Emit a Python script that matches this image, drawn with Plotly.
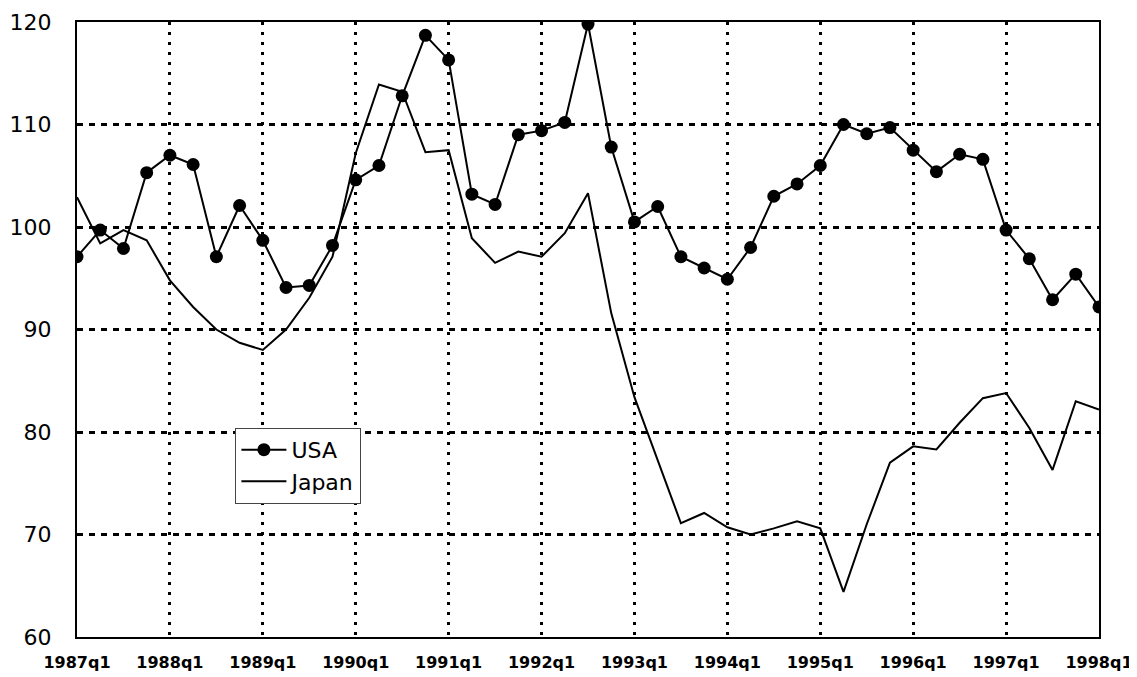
import plotly.graph_objects as go

quarters = [f"{y}q{q}" for y in range(1987, 1998) for q in range(1, 5)] + ["1998q1"]

usa = [97.1, 99.7, 97.9, 105.3, 107.0, 106.1, 97.1, 102.1,
       98.7, 94.1, 94.3, 98.2, 104.6, 106.0, 112.8, 118.7,
       116.3, 103.2, 102.2, 109.0, 109.4, 110.2, 119.8, 107.8,
       100.5, 102.0, 97.1, 96.0, 94.9, 98.0, 103.0, 104.2,
       106.0, 110.0, 109.1, 109.7, 107.5, 105.4, 107.1, 106.6,
       99.7, 96.9, 92.9, 95.4, 92.2]

japan = [102.9, 98.4, 99.7, 98.7, 94.8, 92.2, 90.0, 88.7,
         88.0, 90.0, 93.1, 97.1, 107.2, 113.9, 113.2, 107.3,
         107.5, 98.9, 96.5, 97.6, 97.1, 99.4, 103.3, 91.6,
         83.4, 77.3, 71.1, 72.1, 70.7, 70.0, 70.6, 71.3,
         70.6, 64.4, 71.0, 77.0, 78.6, 78.3, 80.9, 83.3,
         83.8, 80.4, 76.3, 83.0, 82.2]

year_ticks = [f"{y}q1" for y in range(1987, 1999)]
y_ticks = [60, 70, 80, 90, 100, 110, 120]

fig = go.Figure()
fig.add_trace(go.Scatter(
    x=quarters, y=usa, name="USA", mode="lines+markers",
    line=dict(color="black", width=2),
    marker=dict(color="black", size=13, symbol="circle"),
))
fig.add_trace(go.Scatter(
    x=quarters, y=japan, name="Japan", mode="lines",
    line=dict(color="black", width=2),
))

# page body has an 8px default margin; figure sized so the plot lands where the reference has it
fig.update_layout(
    width=1129, height=669,
    margin=dict(l=69, r=38, t=14, b=40),
    paper_bgcolor="white", plot_bgcolor="white",
    font=dict(family="DejaVu Sans", color="black"),
    legend=dict(
        x=0.155, y=0.34, xanchor="left", yanchor="top",
        bordercolor="#444", borderwidth=1, bgcolor="white",
        font=dict(family="DejaVu Sans", size=22, color="black"),
        tracegroupgap=0, itemwidth=45,
    ),
    showlegend=True,
)
fig.update_xaxes(
    type="category", categoryorder="array", categoryarray=quarters,
    range=[0, len(quarters) - 1],
    tickmode="array", tickvals=year_ticks, ticktext=year_ticks,
    tickangle=0, automargin=False,
    showgrid=True, gridcolor="black", gridwidth=3, griddash="3px,7px",
    showline=True, linecolor="black", linewidth=2, mirror=True,
    ticks="outside", ticklen=10, tickcolor="rgba(0,0,0,0)",
    tickfont=dict(family="DejaVu Sans", size=16, color="black", weight="bold"),
    zeroline=False,
)
fig.update_yaxes(
    range=[60, 120], tickvals=y_ticks, automargin=False,
    showgrid=True, gridcolor="black", gridwidth=2.5, griddash="6px,6px",
    showline=True, linecolor="black", linewidth=2, mirror=True,
    ticks="outside", ticklen=19, tickcolor="rgba(0,0,0,0)",
    tickfont=dict(family="DejaVu Sans", size=22, color="black"),
    zeroline=False,
)

fig.write_html("out.html")
